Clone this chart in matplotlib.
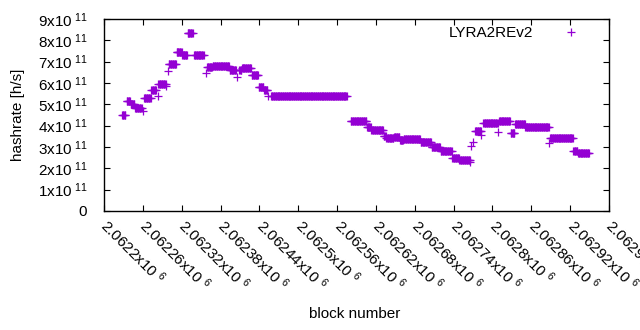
import matplotlib
matplotlib.use('Agg')
import matplotlib.pyplot as plt
import numpy as np

plt.rcParams['font.family'] = 'Liberation Sans'
plt.rcParams['mathtext.fontset'] = 'custom'
plt.rcParams['mathtext.rm'] = 'Liberation Sans'
plt.rcParams['mathtext.it'] = 'Liberation Sans'
plt.rcParams['font.size'] = 11

# runs of consecutive blocks sharing the same hashrate estimate (x1e11 h/s)
run_start = [2062228, 2062235, 2062241, 2062248, 2062261, 2062262, 2062273, 2062283,
             2062284, 2062296, 2062299, 2062300, 2062312, 2062321, 2062329, 2062339,
             2062357, 2062359, 2062368, 2062394, 2062406, 2062409, 2062413, 2062428,
             2062439, 2062447, 2062454, 2062458, 2062581, 2062606, 2062613, 2062632,
             2062636, 2062648, 2062657, 2062663, 2062689, 2062706, 2062720, 2062738,
             2062749, 2062766, 2062767, 2062770, 2062773, 2062783, 2062786, 2062809,
             2062810, 2062828, 2062835, 2062851, 2062888, 2062889, 2062895, 2062925,
             2062932]
run_end = [2062233, 2062240, 2062247, 2062258, 2062261, 2062272, 2062280, 2062283,
           2062295, 2062296, 2062299, 2062311, 2062320, 2062328, 2062337, 2062354,
           2062357, 2062367, 2062393, 2062404, 2062406, 2062412, 2062427, 2062438,
           2062446, 2062452, 2062454, 2062575, 2062605, 2062612, 2062631, 2062635,
           2062647, 2062656, 2062662, 2062688, 2062705, 2062719, 2062737, 2062748,
           2062765, 2062766, 2062767, 2062770, 2062782, 2062783, 2062808, 2062809,
           2062827, 2062834, 2062850, 2062887, 2062888, 2062894, 2062924, 2062931,
           2062949]
run_rate = [4.48, 5.14, 5.02, 4.85, 4.70, 5.29, 5.66, 5.40,
            5.94, 5.85, 6.58, 6.88, 7.44, 7.29, 8.33, 7.30,
            6.48, 6.76, 6.80, 6.60, 6.30, 6.62, 6.68, 6.36,
            5.83, 5.67, 5.38, 5.37, 4.22, 3.92, 3.79, 3.50,
            3.41, 3.48, 3.33, 3.37, 3.22, 2.99, 2.81, 2.48,
            2.39, 2.28, 3.06, 3.25, 3.73, 3.56, 4.11, 3.68,
            4.20, 3.64, 4.06, 3.95, 3.20, 3.44, 3.41, 2.80,
            2.70]

blocks = []
rates = []
for s, e, r in zip(run_start, run_end, run_rate):
    b = np.arange(s, e + 1)
    blocks.append(b)
    rates.append(np.full(len(b), r * 1e11))
blocks = np.concatenate(blocks)
rates = np.concatenate(rates)

xticks = [2062200 + 60 * i for i in range(14)]
xlabels = ['2.0622', '2.06226', '2.06232', '2.06238', '2.06244', '2.0625', '2.06256',
           '2.06262', '2.06268', '2.06274', '2.0628', '2.06286', '2.06292', '2.06298']
yticks = [i * 1e11 for i in range(10)]

fig = plt.figure(figsize=(6.4, 3.3), dpi=100)
ax = fig.add_axes([104 / 640, 1 - 211 / 330, 505 / 640, 192 / 330])

ax.plot(blocks, rates, '+', color='#9400d3', ms=5.2, mew=0.9, label='LYRA2REv2')

ax.set_xlim(2062200, 2062980)
ax.set_ylim(0, 9e11)
ax.set_xticks(xticks)
ax.set_xticklabels([l + r'x10$^{\ \,6}$' for l in xlabels], rotation=-45,
                   ha='left', va='center', rotation_mode='anchor')
ax.set_yticks(yticks)
ax.set_yticklabels(['0'] + ['%dx10$^{\\ 11}$' % i for i in range(1, 10)])
ax.tick_params(direction='in', length=4, width=0.8, top=True, right=True)
ax.tick_params(axis='x', pad=8)
ax.tick_params(axis='y', pad=12)
for sp in ax.spines.values():
    sp.set_linewidth(1)

ax.set_xlabel('block number')
ax.set_ylabel('hashrate [h/s]')
ax.xaxis.set_label_coords((355 - 104) / 505, -(307 - 211) / 192)
ax.yaxis.set_label_coords(-(104 - 25) / 505, 0.5)

ax.legend(loc='upper right', bbox_to_anchor=(0.968, 1.02), frameon=False,
          markerfirst=False, handlelength=1.5, handletextpad=1.7, borderaxespad=0.3)

fig.savefig('out.png', dpi=100)
